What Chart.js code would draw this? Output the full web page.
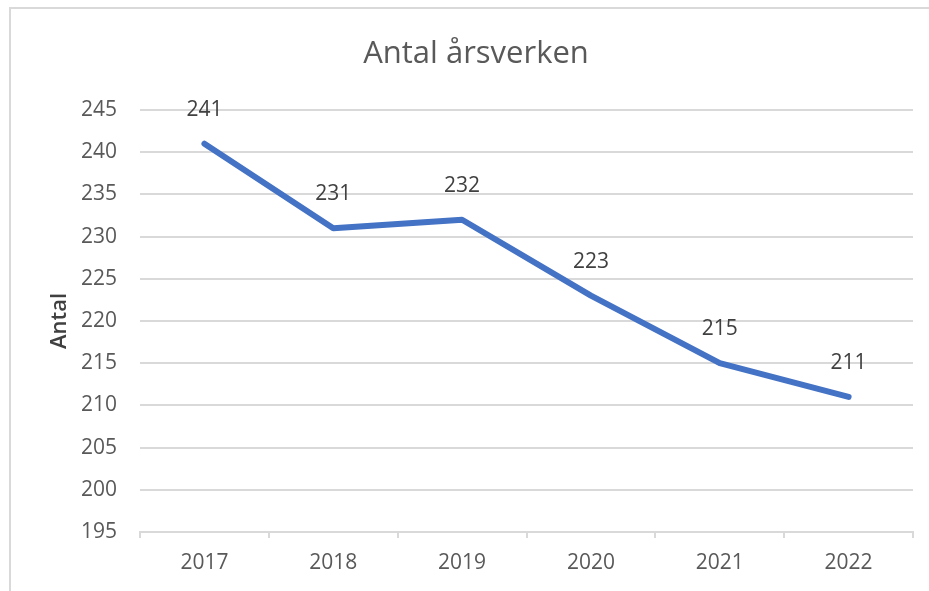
<!DOCTYPE html>
<html>
<head>
<meta charset="utf-8">
<script src="https://cdn.jsdelivr.net/npm/chart.js@4.4.1/dist/chart.umd.min.js"></script>
<style>
  html, body { margin: 0; padding: 0; background: #ffffff; }
  #wrap { position: relative; width: 929px; height: 591px; }
</style>
</head>
<body>
<div id="wrap"><canvas id="c" width="929" height="591"></canvas></div>
<script>
const categories = ['2017', '2018', '2019', '2020', '2021', '2022'];
const antal = [241, 231, 232, 223, 215, 211];
const yMin = 195;
const yMax = 245;
const yStep = 5;
const chartTitle = 'Antal årsverken';
const yTitle = 'Antal';

const FONT = "'Open Sans', 'DejaVu Sans', sans-serif";
const TEXT = '#595959';
const GRID = '#d9d9d9';

const framePlugin = {
  id: 'frame',
  beforeDraw(chart) {
    const ctx = chart.ctx;
    ctx.save();
    ctx.fillStyle = '#ffffff';
    ctx.fillRect(0, 0, chart.width, chart.height);
    ctx.strokeStyle = GRID;
    ctx.lineWidth = 2;
    ctx.strokeRect(10, 8, 1000, 1000);
    ctx.restore();
  }
};

const titlePlugin = {
  id: 'customTitle',
  afterDraw(chart) {
    const ctx = chart.ctx;
    ctx.save();
    ctx.font = "31px " + FONT;
    ctx.fillStyle = TEXT;
    ctx.textAlign = 'center';
    ctx.textBaseline = 'middle';
    ctx.fillText(chartTitle, 476, 54);
    ctx.restore();
  }
};

const labelPlugin = {
  id: 'valueLabels',
  afterDatasetsDraw(chart) {
    const ctx = chart.ctx;
    const meta = chart.getDatasetMeta(0);
    ctx.save();
    ctx.font = "21px " + FONT;
    ctx.fillStyle = '#404040';
    ctx.textAlign = 'center';
    ctx.textBaseline = 'middle';
    meta.data.forEach((pt, i) => {
      ctx.fillText(String(chart.data.datasets[0].data[i]), pt.x, pt.y - 34);
    });
    ctx.restore();
  }
};

new Chart(document.getElementById('c'), {
  type: 'line',
  data: {
    labels: categories,
    datasets: [{
      data: antal,
      borderColor: '#4472C4',
      borderWidth: 6,
      pointRadius: 0,
      pointHoverRadius: 0,
      tension: 0,
      fill: false,
      borderCapStyle: 'round',
      borderJoinStyle: 'round'
    }]
  },
  options: {
    responsive: false,
    animation: false,
    devicePixelRatio: 1,
    events: [],
    layout: { padding: { top: 110, right: 16, bottom: 0, left: 0 } },
    plugins: {
      legend: { display: false },
      title: { display: false },
      tooltip: { enabled: false }
    },
    scales: {
      x: {
        offset: true,
        grid: {
          offset: true,
          drawOnChartArea: false,
          drawTicks: true,
          tickLength: 6,
          color: GRID,
          lineWidth: 2
        },
        border: { display: true, color: GRID, width: 2 },
        ticks: {
          color: TEXT,
          font: { family: FONT, size: 21 },
          padding: 12,
          maxRotation: 0
        },
        afterFit(scale) { scale.height = 59; }
      },
      y: {
        min: yMin,
        max: yMax,
        ticks: {
          stepSize: yStep,
          color: TEXT,
          font: { family: FONT, size: 21 },
          padding: 23
        },
        grid: {
          color: GRID,
          lineWidth: 2,
          drawTicks: false,
          tickLength: 0
        },
        border: { display: false },
        title: {
          display: true,
          text: yTitle,
          color: '#404040',
          font: { family: FONT, size: 22, weight: '600' },
          padding: { top: 47, bottom: 0 }
        },
        afterFit(scale) { scale.width = 140; }
      }
    }
  },
  plugins: [framePlugin, titlePlugin, labelPlugin]
});
</script>
</body>
</html>
